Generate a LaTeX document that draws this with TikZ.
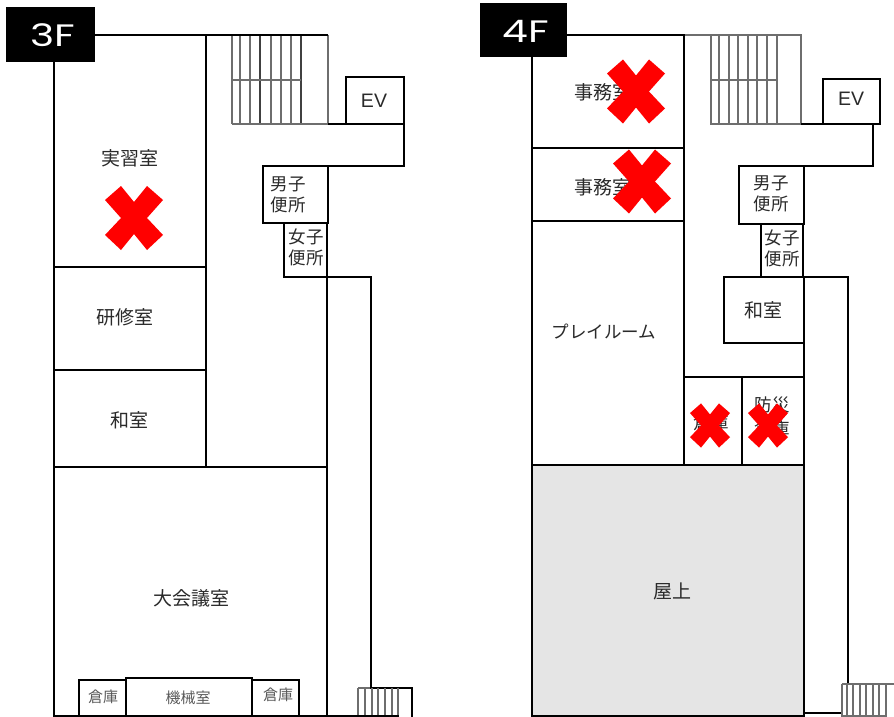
\documentclass[tikz,border=0pt]{standalone}
\usepackage{fontspec}
\setmainfont{Noto Sans CJK JP}
\newfontfamily\evfont{Liberation Sans}
\newfontfamily\floorfont{Poppins}
\definecolor{inkc}{HTML}{2A2A2A}
\definecolor{stairc}{HTML}{6E6E6E}
\definecolor{roofc}{HTML}{E5E5E5}
\tikzset{
  wall/.style={draw=black,line width=1.4pt,line cap=rect},
  stairline/.style={draw=stairc,line width=1.2pt},
  stairdark/.style={draw=black!75,line width=1.2pt},
  lbl/.style={text=inkc,inner sep=0pt,align=center,font=\fontsize{19}{21}\selectfont},
  smalllbl/.style={lbl,text=black!65,font=\fontsize{15}{18}\selectfont},
  wclbl/.style={lbl,font=\fontsize{17.5}{21}\selectfont},
  evlbl/.style={lbl,font=\evfont\fontsize{19.5}{22}\selectfont},
  floortag/.style={fill=black,draw=none},
  floorlbl/.style={text=white,inner sep=0pt,xscale=1.32,font=\floorfont\fontsize{31}{34}\selectfont},
  redx/.style={fill=red,draw=none}
}
\newcommand{\crossmark}[3]{%
  \fill[redx,shift={(#1,#2)},scale=#3] (-13,-32)--(0,-16)--(13,-32)--(29,-18)--(13,0)--(29,17)--(13,32)--(0,16)--(-13,32)--(-29,17)--(-13,0)--(-29,-18)--cycle;}
\begin{document}
\begin{tikzpicture}[x=1pt,y=-1pt]
\useasboundingbox[fill=white] (0,0) rectangle (894,717);

% ---------- 3F ----------
% stairs
\draw[stairline] (232,35) -- (232,124) (250,35) -- (250,124) (271,35) -- (271,124) (291,35) -- (291,124);
\draw[stairline] (240,35) -- (240,124) (281,35) -- (281,124);
\draw[stairdark] (260,35) -- (260,124) (301,35) -- (301,124);
\draw[stairline] (232,80) -- (301,80) (328,35) -- (328,124) (232,124) -- (328,124);
% walls
\draw[wall] (54,62) -- (54,716) -- (327,716);
\draw[wall] (95,35) -- (327,35);
\draw[wall] (206,35) -- (206,467);
\draw[wall] (54,267) -- (206,267) (54,370) -- (206,370) (54,467) -- (327,467);
\draw[wall] (329,124) -- (404,124) -- (404,166) -- (328,166);
\draw[wall] (346,124) -- (346,77) -- (404,77) -- (404,124);
\draw[wall] (263,166) rectangle (328,223);
\draw[wall] (284,224) -- (284,277) -- (327,277) -- (327,224);
\draw[wall] (327,277) -- (371,277) -- (371,687);
\draw[wall] (327,277) -- (327,716);
\draw[wall,line width=1.1pt] (79,716) -- (79,680) -- (126,680);
\draw[wall,line width=1.1pt] (126,716) -- (126,678) -- (252,678) -- (252,716);
\draw[wall,line width=1.1pt] (252,680) -- (299,680) -- (299,716);
% back stairs
\draw[stairline] (358,688) -- (371,688);
\draw[wall,line width=1.1pt] (371,688) -- (412,688) -- (412,717);
\draw[stairline] (358,688) -- (358,717) (365,688) -- (365,717) (372,688) -- (372,717) (378,688) -- (378,717) (385,688) -- (385,717) (392,688) -- (392,717) (398,688) -- (398,717);
\draw[wall,line width=1.1pt] (327,716) -- (398,716);
% tag
\fill[floortag] (6,7) rectangle (95,62);
\node[floorlbl] (tagthree) at (52.5,35) {3F};
% labels
\node[lbl] (jisshu) at (130,158) {実習室};
\node[lbl] (kenshu) at (125,317) {研修室};
\node[lbl] (washitsua) at (129,420) {和室};
\node[lbl] (daikaigi) at (191,598) {大会議室};
\node[smalllbl] (soukoa) at (103,697) {倉庫};
\node[smalllbl] (kikai) at (188,698) {機械室};
\node[smalllbl] (soukob) at (278,695) {倉庫};
\node[wclbl] (mena) at (288,194.5) {男子\\便所};
\node[wclbl] (womena) at (306,247.5) {女子\\便所};
\node[evlbl] (eva) at (374,101) {EV};
\crossmark{134}{218}{1}

% ---------- 4F ----------
\fill[roofc] (532,466) rectangle (804,716);
% stairs
\draw[stairline] (684,35) -- (711,35);
\draw[stairline] (711,35) rectangle (801,124);
\draw[stairline] (719,35) -- (719,124) (729,35) -- (729,124) (738,35) -- (738,124) (748,35) -- (748,124) (757,35) -- (757,124) (767,35) -- (767,124) (777,35) -- (777,124);
\draw[stairline] (711,80) -- (777,80);
% walls
\draw[wall] (532,57) -- (532,716) -- (804,716);
\draw[wall] (567,35) -- (684,35);
\draw[wall] (684,35) -- (684,465);
\draw[wall] (532,148) -- (684,148) (532,221) -- (684,221) (532,465) -- (804,465);
\draw[wall] (684,377) -- (804,377) (742,377) -- (742,465);
\draw[wall] (802,124) -- (873,124) -- (873,166) -- (802,166);
\draw[wall] (823,79) rectangle (880,124);
\draw[wall] (739,166) rectangle (804,224);
\draw[wall] (761,224) -- (761,276) (803,224) -- (803,276);
\draw[wall] (724,277) rectangle (804,343);
\draw[wall] (804,277) -- (848,277) -- (848,684);
\draw[wall] (804,277) -- (804,716);
\draw[wall,line width=1.1pt] (804,713) -- (842,713);
% back stairs
\draw[stairline,line width=1.3pt] (842,684) -- (842,717) (847,684) -- (847,717) (853,684) -- (853,717) (860,684) -- (860,717) (866,684) -- (866,717) (873,684) -- (873,717) (879,684) -- (879,717) (886,684) -- (886,717);
\draw[stairline,line width=1.3pt] (842,684) -- (894,684) (842,716) -- (886,716);
% tag
\fill[floortag] (480,3) rectangle (567,57);
\node[floorlbl] (tagfour) at (525.5,31) {4F};
% labels
\node[lbl] (jimua) at (603,92) {事務室};
\node[lbl] (jimub) at (603,187) {事務室};
\node[lbl,font=\fontsize{17.5}{21}\selectfont] (play) at (604,332) {プレイルーム};
\node[lbl] (washitsub) at (763,310) {和室};
\node[lbl] (okujo) at (672,591) {屋上};
\node[wclbl] (menb) at (771,193.5) {男子\\便所};
\node[wclbl] (womenb) at (782,248.5) {女子\\便所};
\node[evlbl] (evb) at (851,99) {EV};
\node[wclbl] (soukoc) at (711,423) {倉庫};
\node[wclbl,font=\fontsize{17.5}{24}\selectfont] (bousai) at (772,417) {防災\\倉庫};
\crossmark{636}{91.5}{1}
\crossmark{642}{181.5}{1}
\crossmark{710}{425.5}{0.69}
\crossmark{768}{425.5}{0.69}
\end{tikzpicture}
\end{document}
